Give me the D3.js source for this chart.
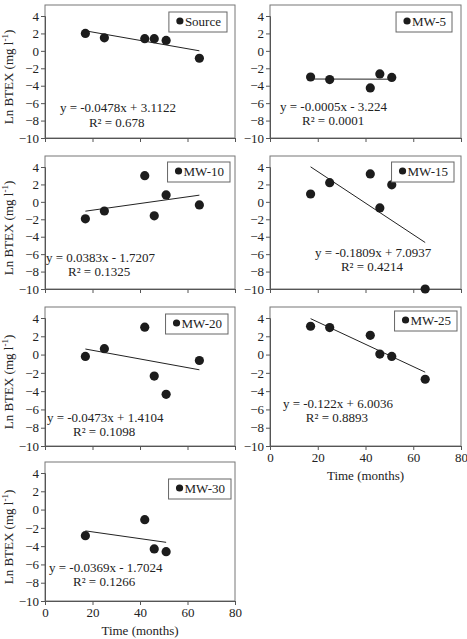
<!DOCTYPE html>
<html>
<head>
<meta charset="utf-8">
<script src="https://cdn.jsdelivr.net/npm/d3@7"></script>
<style>
  body { margin: 0; background: #fff; }
  text { font-family: "Liberation Serif", "Times New Roman", serif; fill: #222; }
</style>
</head>
<body>
<div id="chart"></div>
<script>
// wells and their readings (time in months, Ln BTEX in mg/l)
var wells = ['Source', 'MW-5', 'MW-10', 'MW-15', 'MW-20', 'MW-25', 'MW-30']
var monthsAll = [17, 25, 42, 46, 51, 65]
var months5 = [17, 25, 42, 46, 51]
var months30 = [17, 42, 46, 51]
var sourceLn = [2.0, 1.5, 1.4, 1.4, 1.2, -0.85]
var mw5Ln = [-3.0, -3.3, -4.25, -2.65, -3.05]
var mw10Ln = [-1.95, -1.05, 3.0, -1.6, 0.8, -0.35]
var mw15Ln = [0.9, 2.2, 3.2, -0.7, 1.95, -10]
var mw20Ln = [-0.2, 0.65, 3.0, -2.35, -4.35, -0.65]
var mw25Ln = [3.1, 2.95, 2.1, 0.05, -0.2, -2.7]
var mw30Ln = [-2.85, -1.1, -4.3, -4.6]

var slopes = [-0.0478, -0.0005, 0.0383, -0.1809, -0.0473, -0.122, -0.0369]
var intercepts = [3.1122, -3.224, -1.7207, 7.0937, 1.4104, 6.0036, -1.7024]
var rSquared = ['0.678', '0.0001', '0.1325', '0.4214', '0.1098', '0.8893', '0.1266']

var xTicks = [0, 20, 40, 60, 80]
var yTicks = [4, 2, 0, -2, -4, -6, -8, -10]

var xs = [monthsAll, months5, monthsAll, monthsAll, monthsAll, monthsAll, months30]
var ys = [sourceLn, mw5Ln, mw10Ln, mw15Ln, mw20Ln, mw25Ln, mw30Ln]

// layout
var svg_width = 467, svg_height = 639
var cols = [[45, 235], [270, 461]]
var rows = [[16, 138], [167, 289], [318, 446], [473, 601]]
// equation label anchors in data units [month, value], legend box [right gap, top gap]
var eqPos = [[6.3, -6.7], [4.2, -6.6], [0.4, -6.6], [18.8, -6.0], [0.8, -7.05], [5.4, -5.5], [1.7, -6.5]]
var r2Pos = [[18.5, -8.4], [13.4, -8.2], [9.7, -8.2], [29.7, -7.6], [11.8, -8.6], [15, -7.05], [11.8, -8.0]]
var legendGap = [[8, 7], [9, 7], [5, 6], [7, 6], [7, 7], [4, 4], [4, 17]]

var svg = d3.select('#chart')
    .append('svg')
    .attr('width', svg_width)
    .attr('height', svg_height)

wells.forEach(function (name, i) {
    var col = i % 2, row = Math.floor(i / 2)
    var xScale = d3.scaleLinear().domain([0, 80]).range(cols[col])
    var yScale = d3.scaleLinear().domain([-10, 4]).range([rows[row][1], rows[row][0]])
    var top = yScale(4) - 11
    var g = svg.append('g')

    // frame
    g.append('rect')
        .attr('x', xScale(0)).attr('y', top)
        .attr('width', xScale(80) - xScale(0))
        .attr('height', yScale(-10) - top)
        .attr('fill', 'none').attr('stroke', '#777').attr('stroke-width', 1)

    // y axis
    var yAxis = d3.axisLeft(yScale).tickValues(yTicks).tickSize(4).tickPadding(2)
    var ya = g.append('g').attr('transform', 'translate(' + xScale(0) + ',0)').call(yAxis)
    ya.select('.domain').attr('stroke', '#555')
    ya.selectAll('line').attr('stroke', '#555')
    ya.selectAll('text').style('font-size', '13px').attr('fill', '#222')
        .style('font-family', '"Liberation Serif", serif')

    // x axis
    var xAxis = d3.axisBottom(xScale).tickValues(xTicks).tickSize(4).tickPadding(3)
    var showX = (i === 5 || i === 6)
    if (!showX) xAxis.tickFormat('')
    var xa = g.append('g').attr('transform', 'translate(0,' + yScale(-10) + ')').call(xAxis)
    xa.select('.domain').attr('stroke', '#555')
    xa.selectAll('line').attr('stroke', '#555')
    xa.selectAll('text').style('font-size', '13px').attr('fill', '#222')
        .style('font-family', '"Liberation Serif", serif')

    if (showX) {
        g.append('text')
            .attr('x', (xScale(0) + xScale(80)) / 2)
            .attr('y', yScale(-10) + 34)
            .attr('text-anchor', 'middle')
            .style('font-size', '13px')
            .text('Time (months)')
    }

    if (col === 0) {
        var t = g.append('text')
            .attr('transform', 'translate(13,' + (yScale(4) + yScale(-10)) / 2 + ') rotate(-90)')
            .attr('text-anchor', 'middle')
            .style('font-size', '13px')
        t.append('tspan').text('Ln BTEX (mg l')
        t.append('tspan').attr('dy', -5).style('font-size', '9px').text('-1')
        t.append('tspan').attr('dy', 5).text(')')
    }

    // trend line
    var xv = xs[i], yv = ys[i]
    var x0 = d3.min(xv), x1 = d3.max(xv)
    g.append('line')
        .attr('x1', xScale(x0)).attr('y1', yScale(slopes[i] * x0 + intercepts[i]))
        .attr('x2', xScale(x1)).attr('y2', yScale(slopes[i] * x1 + intercepts[i]))
        .attr('stroke', '#222').attr('stroke-width', 1)

    // points
    g.selectAll('dots')
        .data(xv)
        .enter()
        .append('circle')
        .attr('cx', function (d) { return xScale(d) })
        .attr('cy', function (d, k) { return yScale(yv[k]) })
        .attr('r', 4.6)
        .style('fill', '#1c1c1c')

    // equation
    var b = intercepts[i]
    g.append('text')
        .attr('x', xScale(eqPos[i][0])).attr('y', yScale(eqPos[i][1]))
        .attr('dominant-baseline', 'middle')
        .style('font-size', '13px')
        .text('y = ' + slopes[i] + 'x ' + (b < 0 ? '- ' : '+ ') + Math.abs(b))
    g.append('text')
        .attr('x', xScale(r2Pos[i][0])).attr('y', yScale(r2Pos[i][1]))
        .attr('dominant-baseline', 'middle')
        .style('font-size', '13px')
        .text('R\u00b2 = ' + rSquared[i])

    // legend
    var lg = g.append('g')
    var lt = lg.append('text')
        .attr('dominant-baseline', 'middle')
        .style('font-size', '13px')
        .text(name)
    var tw = lt.node().getComputedTextLength()
    var bw = tw + 22, bh = 20
    var bx = xScale(80) - legendGap[i][0] - bw
    var by = top + legendGap[i][1]
    lg.insert('rect', 'text')
        .attr('x', bx).attr('y', by).attr('width', bw).attr('height', bh)
        .attr('fill', '#fff').attr('stroke', '#666')
    lg.append('circle').attr('cx', bx + 11).attr('cy', by + bh / 2 - 1).attr('r', 3.6).style('fill', '#1c1c1c')
    lt.attr('x', bx + 16).attr('y', by + bh / 2 + 1)
})
</script>
</body>
</html>
